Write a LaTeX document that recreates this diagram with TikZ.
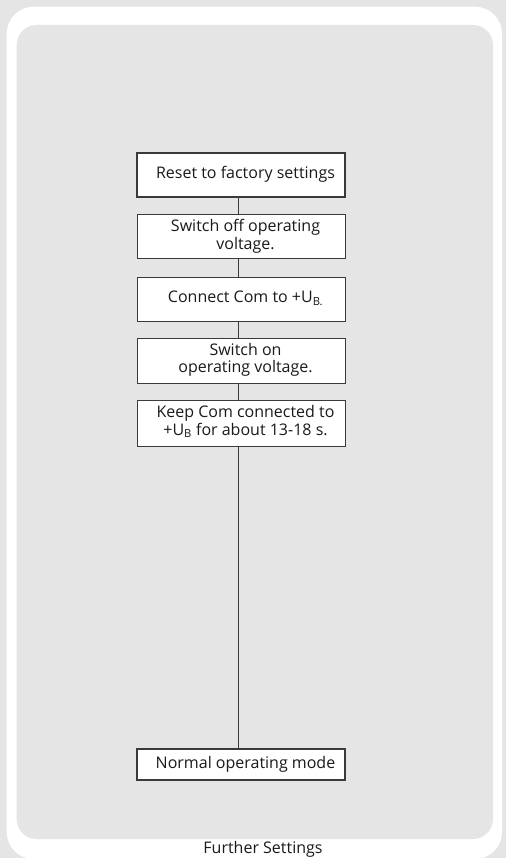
\documentclass[tikz,border=0pt]{standalone}
\usepackage{fontspec}
\setmainfont{Open Sans}
\definecolor{bggrey}{HTML}{E5E5E5}
\definecolor{frame}{HTML}{3A3A3A}
\definecolor{txt}{HTML}{1A1A1A}
\newcommand{\boxtext}[1]{\hspace*{9pt}\begin{tabular}{@{}c@{}}#1\end{tabular}}
\begin{document}
\begin{tikzpicture}[x=1pt,y=-1pt,
  stepbox/.style={draw=frame, line width=1pt, fill=white, minimum width=208pt, minimum height=44pt,
    inner sep=0pt, align=center, text=txt, font=\fontsize{16}{17.5}\selectfont},
  endbox/.style={stepbox, line width=2pt},
  link/.style={draw=frame, line width=1pt}]
\useasboundingbox (0,0) rectangle (506,858);
\fill[bggrey] (0,0) rectangle (506,858);
\fill[white, rounded corners=27pt] (6.7,6.7) rectangle (502,859);
\fill[bggrey, rounded corners=20pt] (16.7,25) rectangle (493,839);

\node[endbox] (b1) at (241,175) {\boxtext{Reset to factory settings}};
\node[stepbox] (b2) at (241,237) {\boxtext{Switch off operating\\voltage.}};
\node[stepbox] (b3) at (241,299) {\boxtext{Connect Com to +U\textsubscript{B.}}};
\node[stepbox, minimum height=45pt] (b4) at (241,360.5) {\boxtext{Switch on\\operating voltage.}};
\node[stepbox, minimum height=46pt] (b5) at (241,423) {\boxtext{Keep Com connected to\\+U\textsubscript{B} for about 13-18 s.}};
\node[endbox, minimum height=31pt] (b6) at (241,764.5) {\boxtext{Normal operating mode}};

\draw[link] ([xshift=-3pt]b1.south) -- ([xshift=-3pt]b2.north);
\draw[link] ([xshift=-3pt]b2.south) -- ([xshift=-3pt]b3.north);
\draw[link] ([xshift=-3pt]b3.south) -- ([xshift=-3pt]b4.north);
\draw[link] ([xshift=-3pt]b4.south) -- ([xshift=-3pt]b5.north);
\draw[link] ([xshift=-3pt]b5.south) -- ([xshift=-3pt]b6.north);

\node[text=txt, font=\fontsize{16}{17.5}\selectfont, inner sep=0pt] (cap) at (263,849) {Further Settings};
\end{tikzpicture}
\end{document}
